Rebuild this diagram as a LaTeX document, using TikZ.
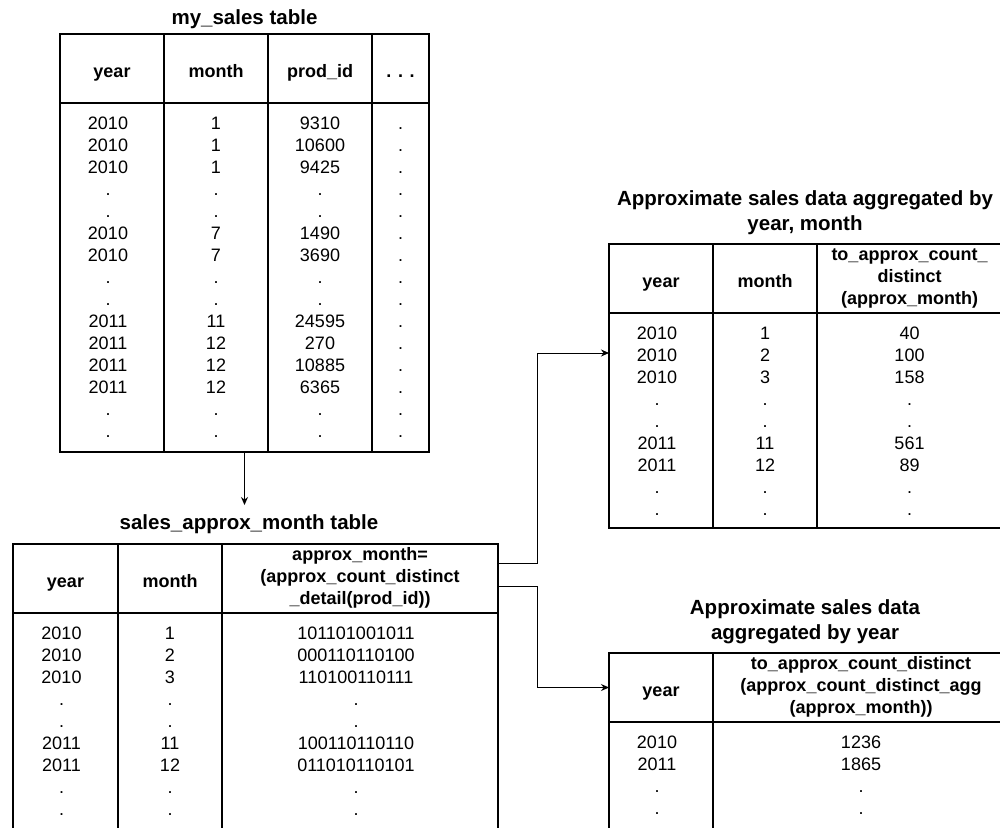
\documentclass[tikz,border=0pt]{standalone}
\usepackage{fontspec}
\setmainfont{Liberation Sans}
\usetikzlibrary{positioning, arrows.meta, calc}

\begin{document}
\begin{tikzpicture}[
    x=1pt, y=-1pt,
    font=\fontsize{18}{22}\selectfont,
    head/.style={rectangle, draw=black, line width=2pt, minimum height=69pt,
                 inner sep=0pt, outer sep=0pt, font=\fontsize{18}{22}\selectfont\bfseries,
                 align=center},
    headone/.style={head, text height=21pt, text depth=4pt},
    body/.style={rectangle, draw=black, line width=2pt, inner sep=0pt, outer sep=0pt},
    vals/.style={align=center, inner sep=0pt, outer sep=0pt},
    tabtitle/.style={font=\fontsize{20.5}{25}\selectfont\bfseries, align=center,
                 inner sep=0pt, anchor=north},
    conn/.style={-{Stealth[length=8pt, width=7pt]}, line width=1pt}
]

\useasboundingbox (0,0) rectangle (1000,827);
\fill[white] (0,0) rectangle (1000,827);
\clip (0,0) rectangle (1000,827);

% my_sales table
\node[tabtitle] (ms-title) at (244.5,7) {\strut my\_sales table};
\node[headone, minimum width=104pt, anchor=north west] (ms-year) at (60,34) {year};
\node[headone, minimum width=104pt, right=0pt of ms-year] (ms-month) {month};
\node[headone, minimum width=104pt, right=0pt of ms-month] (ms-prod) {prod\_id};
\node[headone, minimum width=57pt, right=0pt of ms-prod] (ms-more) {. . .};
\node[body, minimum width=104pt, minimum height=349pt, below=0pt of ms-year] (ms-year-b) {};
\node[body, minimum width=104pt, minimum height=349pt, below=0pt of ms-month] (ms-month-b) {};
\node[body, minimum width=104pt, minimum height=349pt, below=0pt of ms-prod] (ms-prod-b) {};
\node[body, minimum width=57pt, minimum height=349pt, below=0pt of ms-more] (ms-more-b) {};

\node[vals, below=11.5pt of ms-year-b.north, xshift=-4pt] (ms-year-v) {\strut 2010\\2010\\2010\\.\\.\\2010\\2010\\.\\.\\2011\\2011\\2011\\2011\\.\\.};
\node[vals, below=11.5pt of ms-month-b.north] (ms-month-v) {\strut 1\\1\\1\\.\\.\\7\\7\\.\\.\\11\\12\\12\\12\\.\\.};
\node[vals, below=11.5pt of ms-prod-b.north] (ms-prod-v) {\strut 9310\\10600\\9425\\.\\.\\1490\\3690\\.\\.\\24595\\270\\10885\\6365\\.\\.};
\node[vals, below=11.5pt of ms-more-b.north] (ms-more-v) {\strut .\\.\\.\\.\\.\\.\\.\\.\\.\\.\\.\\.\\.\\.\\.};

% sales_approx_month table
\node[tabtitle] (sam-title) at (249,512) {\strut sales\_approx\_month table};
\node[headone, minimum width=105pt, anchor=north west] (sam-year) at (13,544) {year};
\node[headone, minimum width=104pt, right=0pt of sam-year] (sam-month) {month};
\node[head, minimum width=276pt, right=0pt of sam-month] (sam-approx) {\strut approx\_month=\\(approx\_count\_distinct\\\_detail(prod\_id))\strut};
\node[body, minimum width=105pt, minimum height=240pt, below=0pt of sam-year] (sam-year-b) {};
\node[body, minimum width=104pt, minimum height=240pt, below=0pt of sam-month] (sam-month-b) {};
\node[body, minimum width=276pt, minimum height=240pt, below=0pt of sam-approx] (sam-approx-b) {};

\node[vals, below=11.5pt of sam-year-b.north, xshift=-4pt] (sam-year-v) {\strut 2010\\2010\\2010\\.\\.\\2011\\2011\\.\\.};
\node[vals, below=11.5pt of sam-month-b.north] (sam-month-v) {\strut 1\\2\\3\\.\\.\\11\\12\\.\\.};
\node[vals, below=11.5pt of sam-approx-b.north, xshift=-4pt] (sam-approx-v) {\strut 101101001011\\000110110100\\110100110111\\.\\.\\100110110110\\011010110101\\.\\.};

% aggregated by year, month
\node[tabtitle] (ym-title) at (805,188) {\strut Approximate sales data aggregated by\\year, month};
\node[headone, minimum width=104pt, anchor=north west] (ym-year) at (609,244) {year};
\node[headone, minimum width=104pt, right=0pt of ym-year] (ym-month) {month};
\node[head, minimum width=185pt, right=0pt of ym-month] (ym-count) {\strut to\_approx\_count\_\\distinct\\(approx\_month)\strut};
\node[body, minimum width=104pt, minimum height=215pt, below=0pt of ym-year] (ym-year-b) {};
\node[body, minimum width=104pt, minimum height=215pt, below=0pt of ym-month] (ym-month-b) {};
\node[body, minimum width=185pt, minimum height=215pt, below=0pt of ym-count] (ym-count-b) {};

\node[vals, below=11.5pt of ym-year-b.north, xshift=-4pt] (ym-year-v) {\strut 2010\\2010\\2010\\.\\.\\2011\\2011\\.\\.};
\node[vals, below=11.5pt of ym-month-b.north] (ym-month-v) {\strut 1\\2\\3\\.\\.\\11\\12\\.\\.};
\node[vals, below=11.5pt of ym-count-b.north] (ym-count-v) {\strut 40\\100\\158\\.\\.\\561\\89\\.\\.};

% aggregated by year
\node[tabtitle] (yr-title) at (805,597) {\strut Approximate sales data\\aggregated by year};
\node[headone, minimum width=104pt, anchor=north west] (yr-year) at (609,653) {year};
\node[head, minimum width=296pt, right=0pt of yr-year] (yr-count) {\strut to\_approx\_count\_distinct\\(approx\_count\_distinct\_agg\\(approx\_month))\strut};
\node[body, minimum width=104pt, minimum height=150pt, below=0pt of yr-year] (yr-year-b) {};
\node[body, minimum width=296pt, minimum height=150pt, below=0pt of yr-count] (yr-count-b) {};

\node[vals, below=11.5pt of yr-year-b.north, xshift=-4pt] (yr-year-v) {\strut 2010\\2011\\.\\.};
\node[vals, below=11.5pt of yr-count-b.north] (yr-count-v) {\strut 1236\\1865\\.\\.};

% Connectors
\coordinate (ms-bottom) at ($(ms-year-b.south west)!0.5!(ms-more-b.south east)$);
\draw[conn, shorten >=7pt] (ms-bottom) -- (ms-bottom |- sam-title.north);
\draw[conn] ([yshift=15.5pt]sam-approx.east) -- ++(39,0) |- ([yshift=-40pt]ym-year-b.north west);
\draw[conn] ([yshift=-7.5pt]sam-approx.east) -- ++(39,0) |- (yr-year.west);

\end{tikzpicture}
\end{document}
